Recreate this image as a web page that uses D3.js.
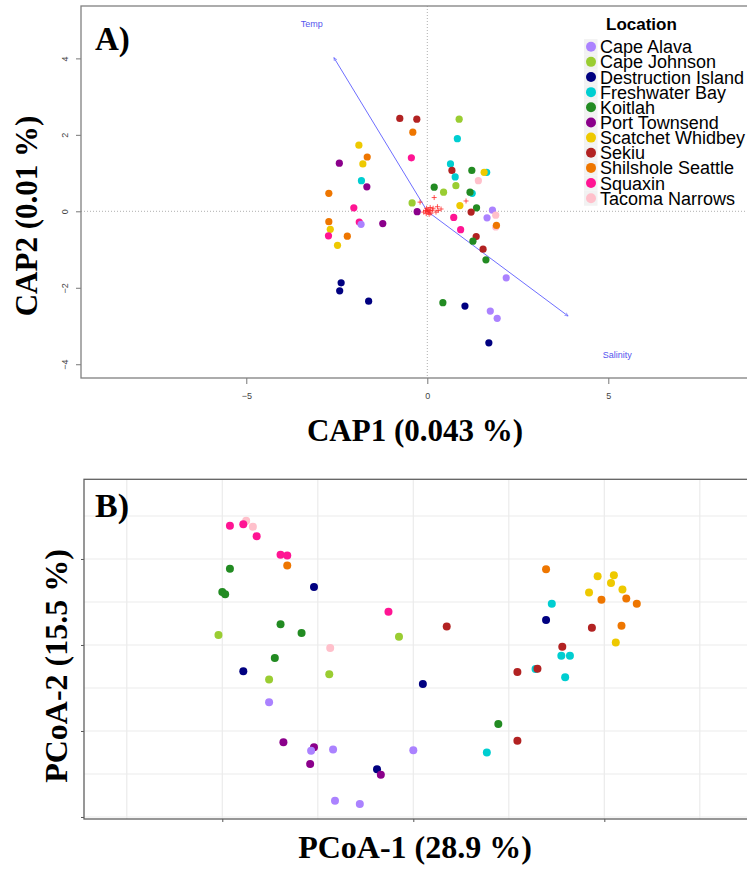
<!DOCTYPE html>
<html>
<head>
<meta charset="utf-8">
<script src="https://cdn.jsdelivr.net/npm/d3@7"></script>
<style>
  body { margin: 0; background: #fff; }
  svg { display: block; }
</style>
</head>
<body>
<div id="chart"></div>
<script>
// ---- data ----
const sites = ["Cape Alava", "Cape Johnson", "Destruction Island", "Freshwater Bay", "Koitlah",
  "Port Townsend", "Scatchet Whidbey", "Sekiu", "Shilshole Seattle", "Squaxin", "Tacoma Narrows"];
const siteColors = ["#ab82ff", "#9acd32", "#000080", "#00ced1", "#228b22",
  "#8b008b", "#eec900", "#b22222", "#ee7600", "#ff1493", "#ffc0cb"];

// panel A: site scores [location, CAP1, CAP2]
const capScores = [
  ["Sekiu", -0.76, 2.43], ["Sekiu", -0.29, 2.41], ["Shilshole Seattle", -0.40, 2.07],
  ["Scatchet Whidbey", -1.89, 1.73], ["Shilshole Seattle", -1.66, 1.42], ["Port Townsend", -2.43, 1.26],
  ["Squaxin", -0.44, 1.40], ["Scatchet Whidbey", -1.78, 1.24], ["Freshwater Bay", -1.82, 0.80],
  ["Port Townsend", -1.67, 0.64], ["Shilshole Seattle", -2.72, 0.47], ["Cape Johnson", -0.42, 0.22],
  ["Port Townsend", -0.28, -0.01], ["Squaxin", -2.03, 0.09], ["Shilshole Seattle", -2.72, -0.27],
  ["Squaxin", -1.88, -0.28], ["Cape Alava", -1.83, -0.34], ["Port Townsend", -1.23, -0.32],
  ["Scatchet Whidbey", -2.68, -0.47], ["Squaxin", -2.73, -0.64], ["Shilshole Seattle", -2.21, -0.65],
  ["Scatchet Whidbey", -2.48, -0.89], ["Destruction Island", -2.38, -1.87],
  ["Destruction Island", -2.42, -2.08], ["Destruction Island", -1.62, -2.35],
  ["Cape Johnson", 0.88, 2.41], ["Freshwater Bay", 0.83, 1.90], ["Freshwater Bay", 0.64, 1.24],
  ["Sekiu", 0.68, 1.07], ["Freshwater Bay", 0.77, 0.90], ["Cape Johnson", 0.79, 0.67],
  ["Koitlah", 1.23, 1.07], ["Freshwater Bay", 1.64, 1.02], ["Scatchet Whidbey", 1.57, 1.02],
  ["Tacoma Narrows", 1.41, 0.80], ["Koitlah", 0.19, 0.63], ["Cape Johnson", 0.45, 0.50],
  ["Freshwater Bay", 1.24, 0.47], ["Koitlah", 1.18, 0.50], ["Scatchet Whidbey", 0.90, 0.15],
  ["Koitlah", 1.36, 0.09], ["Sekiu", 1.21, -0.02], ["Cape Alava", 1.80, 0.03],
  ["Tacoma Narrows", 1.89, -0.10], ["Cape Alava", 1.65, -0.17], ["Squaxin", 0.73, -0.16],
  ["Squaxin", 0.92, -0.48], ["Tacoma Narrows", 1.89, -0.41], ["Shilshole Seattle", 1.91, -0.37],
  ["Sekiu", 1.35, -0.66], ["Koitlah", 1.26, -0.78], ["Sekiu", 1.54, -0.99],
  ["Koitlah", 1.62, -1.27], ["Cape Alava", 2.18, -1.74], ["Koitlah", 0.43, -2.39],
  ["Destruction Island", 1.04, -2.48], ["Cape Alava", 1.74, -2.61], ["Cape Alava", 1.93, -2.80],
  ["Destruction Island", 1.70, -3.44]
];
// species scores (red crosses near the origin)
const speciesScores = [
  [0.02, 0.04], [-0.05, 0.02], [0.10, -0.05], [0.19, 0.36], [0.28, 0.12], [1.07, 0.27],
  [-0.20, 0.24], [0.05, -0.08], [0.14, 0.03], [-0.03, -0.06], [0.38, 0.06], [0.24, -0.02],
  [0.08, 0.10], [-0.10, -0.02], [0.00, 0.00], [0.04, -0.02], [-0.02, 0.08], [0.07, 0.02],
  [0.16, 0.08], [0.30, 0.02]
];
// environmental vectors: name, arrow tip, label position
const envNames = ["Temp", "Salinity"];
const envTips = [[-2.58, 4.02], [3.89, -2.74]];
const envLabels = [[-3.19, 4.90], [5.25, -3.75]];
const capXTicks = [-5, 0, 5];
const capYTicks = [-4, -2, 0, 2, 4];

// panel B: PCoA scores [location, axis1, axis2]
const pcoaScores = [
  ["Tacoma Narrows", -0.175, 0.289], ["Squaxin", -0.192, 0.277], ["Squaxin", -0.178, 0.281],
  ["Tacoma Narrows", -0.168, 0.275], ["Squaxin", -0.164, 0.253], ["Squaxin", -0.139, 0.210],
  ["Squaxin", -0.132, 0.208], ["Shilshole Seattle", -0.132, 0.185], ["Koitlah", -0.192, 0.177],
  ["Destruction Island", -0.104, 0.135], ["Koitlah", -0.200, 0.123], ["Koitlah", -0.197, 0.118],
  ["Squaxin", -0.026, 0.077], ["Koitlah", -0.139, 0.048], ["Koitlah", -0.117, 0.028],
  ["Cape Johnson", -0.204, 0.023], ["Cape Johnson", -0.015, 0.019], ["Tacoma Narrows", -0.087, -0.007],
  ["Koitlah", -0.145, -0.030], ["Destruction Island", -0.178, -0.061], ["Cape Johnson", -0.151, -0.080],
  ["Cape Johnson", -0.088, -0.068], ["Destruction Island", 0.010, -0.091], ["Cape Alava", -0.151, -0.133],
  ["Port Townsend", -0.136, -0.226], ["Port Townsend", -0.104, -0.238], ["Cape Alava", -0.107, -0.246],
  ["Cape Alava", -0.084, -0.243], ["Cape Alava", 0.000, -0.245], ["Port Townsend", -0.108, -0.277],
  ["Destruction Island", -0.038, -0.289], ["Port Townsend", -0.034, -0.302],
  ["Cape Alava", -0.082, -0.362], ["Cape Alava", -0.056, -0.370],
  ["Shilshole Seattle", 0.139, 0.176], ["Scatchet Whidbey", 0.193, 0.160], ["Scatchet Whidbey", 0.210, 0.162],
  ["Scatchet Whidbey", 0.207, 0.144], ["Scatchet Whidbey", 0.219, 0.129], ["Scatchet Whidbey", 0.184, 0.122],
  ["Shilshole Seattle", 0.197, 0.105], ["Shilshole Seattle", 0.223, 0.108], ["Shilshole Seattle", 0.234, 0.096],
  ["Freshwater Bay", 0.145, 0.096], ["Destruction Island", 0.139, 0.058], ["Sekiu", 0.035, 0.043],
  ["Sekiu", 0.187, 0.040], ["Shilshole Seattle", 0.218, 0.045], ["Scatchet Whidbey", 0.212, 0.006],
  ["Sekiu", 0.156, -0.004], ["Freshwater Bay", 0.155, -0.025], ["Freshwater Bay", 0.164, -0.025],
  ["Freshwater Bay", 0.128, -0.056], ["Sekiu", 0.130, -0.055], ["Sekiu", 0.109, -0.063],
  ["Freshwater Bay", 0.159, -0.075], ["Koitlah", 0.089, -0.184], ["Sekiu", 0.109, -0.223],
  ["Freshwater Bay", 0.077, -0.250]
];
const pcoaXMajor = [-0.2, 0, 0.2];
const pcoaXMinor = [-0.3, -0.1, 0.1, 0.3];
const pcoaYMajor = [-0.4, -0.2, 0, 0.2];
const pcoaYMinor = [-0.3, -0.1, 0.1, 0.3];

// ---- setup ----
const width = 747, height = 869;
const color = d3.scaleOrdinal().domain(sites).range(siteColors);
const serif = "'Liberation Serif', 'Times New Roman', serif";
const sans = "'Liberation Sans', Arial, sans-serif";

const svg = d3.select("#chart").append("svg")
  .attr("width", width).attr("height", height);

// ===== Panel A: CAP biplot =====
const a = {left: 81, right: 747, top: 6, bottom: 378};
const xA = d3.scaleLinear().domain([-9.566, 8.831]).range([a.left, a.right]);
const yA = d3.scaleLinear().domain([-4.36, 5.37]).range([a.bottom, a.top]);
const gA = svg.append("g");

// zero reference lines
gA.append("line")
  .attr("x1", a.left).attr("x2", a.right + 20)
  .attr("y1", yA(0)).attr("y2", yA(0))
  .attr("stroke", "#b0b0b0").attr("stroke-dasharray", "1,2");
gA.append("line")
  .attr("x1", xA(0)).attr("x2", xA(0))
  .attr("y1", a.top).attr("y2", a.bottom)
  .attr("stroke", "#b0b0b0").attr("stroke-dasharray", "1,2");

// axes (R style)
const axA_x = gA.append("g").attr("transform", `translate(0,${a.bottom})`)
  .call(d3.axisBottom(xA).tickValues(capXTicks).tickSize(6).tickSizeOuter(0)
    .tickFormat(d => d < 0 ? "\u2212" + Math.abs(d) : d));
const axA_y = gA.append("g").attr("transform", `translate(${a.left},0)`)
  .call(d3.axisLeft(yA).tickValues(capYTicks).tickSize(5).tickSizeOuter(0)
    .tickFormat(d => d < 0 ? "\u2212" + Math.abs(d) : d));
[axA_x, axA_y].forEach(ax => {
  ax.select(".domain").remove();
  ax.selectAll(".tick line").attr("stroke", "#777");
  ax.selectAll(".tick text").attr("fill", "#444")
    .style("font-family", sans).style("font-size", "9px");
});
axA_x.selectAll(".tick text").attr("y", 15);
axA_y.selectAll(".tick text")
  .attr("transform", "rotate(-90)")
  .attr("x", 0).attr("y", -13).attr("dy", 0)
  .attr("text-anchor", "middle");

// box
gA.append("rect")
  .attr("x", a.left).attr("y", a.top)
  .attr("width", a.right - a.left + 30).attr("height", a.bottom - a.top)
  .attr("fill", "none").attr("stroke", "#808080").attr("stroke-width", 1.3);

// environmental arrows
svg.append("defs").append("marker")
  .attr("id", "head").attr("viewBox", "0 0 10 10")
  .attr("refX", 9).attr("refY", 5)
  .attr("markerWidth", 4).attr("markerHeight", 4)
  .attr("orient", "auto")
  .append("path").attr("d", "M0,1 L9,5 L0,9").attr("fill", "none")
  .attr("stroke", "#6e6eff").attr("stroke-width", 1.5);

gA.selectAll("line.env").data(envTips).enter().append("line")
  .attr("class", "env")
  .attr("x1", xA(0)).attr("y1", yA(0))
  .attr("x2", d => xA(d[0])).attr("y2", d => yA(d[1]))
  .attr("stroke", "#6e6eff").attr("stroke-width", 1)
  .attr("marker-end", "url(#head)");
gA.selectAll("text.env").data(envLabels).enter().append("text")
  .attr("class", "env")
  .attr("x", d => xA(d[0])).attr("y", d => yA(d[1]))
  .attr("text-anchor", "middle").attr("dy", "0.35em")
  .attr("fill", "#5555ee")
  .style("font-family", sans).style("font-size", "9px")
  .text((d, i) => envNames[i]);

// species crosses
gA.selectAll("path.sp").data(speciesScores).enter().append("path")
  .attr("class", "sp")
  .attr("d", d => {
    const cx = xA(d[0]), cy = yA(d[1]);
    return `M${cx - 2.5},${cy}H${cx + 2.5}M${cx},${cy - 2.5}V${cy + 2.5}`;
  })
  .attr("stroke", "#ff2020").attr("stroke-opacity", 0.75).attr("stroke-width", 1);

// sites
gA.selectAll("circle.site").data(capScores).enter().append("circle")
  .attr("class", "site")
  .attr("cx", d => xA(d[1])).attr("cy", d => yA(d[2]))
  .attr("r", 3.6)
  .attr("fill", d => color(d[0]));

// legend
const leg = gA.append("g");
leg.append("text")
  .attr("x", 606).attr("y", 29.5)
  .style("font-family", sans).style("font-size", "17px").style("font-weight", "bold")
  .text("Location");
const rowH = 15.15;
const items = leg.selectAll("g.item").data(sites).enter().append("g")
  .attr("class", "item")
  .attr("transform", (d, i) => `translate(0,${46.7 + i * rowH})`);
items.append("rect")
  .attr("x", 584).attr("y", -rowH / 2).attr("width", 13.5).attr("height", rowH)
  .attr("fill", "#f2f2f2");
items.append("circle")
  .attr("cx", 591).attr("cy", 0).attr("r", 5)
  .attr("fill", d => color(d));
items.append("text")
  .attr("x", 600).attr("y", 6.5)
  .style("font-family", sans).style("font-size", "18px")
  .text(d => d);

// titles
svg.append("text")
  .attr("x", 95).attr("y", 50)
  .style("font-family", serif).style("font-size", "33px").style("font-weight", "bold")
  .text("A)");
svg.append("text")
  .attr("x", 415).attr("y", 441).attr("text-anchor", "middle")
  .style("font-family", serif).style("font-size", "31px").style("font-weight", "bold")
  .text("CAP1 (0.043 %)");
svg.append("text")
  .attr("transform", "translate(37,216) rotate(-90)").attr("text-anchor", "middle")
  .style("font-family", serif).style("font-size", "31px").style("font-weight", "bold")
  .text("CAP2 (0.01 %)");

// ===== Panel B: PCoA =====
const b = {left: 84, right: 747, top: 479.3, bottom: 819};
const xB = d3.scaleLinear().domain([-0.3448, 0.3494]).range([b.left, b.right]);
const yB = d3.scaleLinear().domain([-0.4047, 0.3853]).range([b.bottom, b.top]);
const gB = svg.append("g");

// grid
gB.selectAll("line.vx").data(pcoaXMinor.concat(pcoaXMajor)).enter().append("line")
  .attr("x1", d => xB(d)).attr("x2", d => xB(d))
  .attr("y1", b.top).attr("y2", b.bottom)
  .attr("stroke", "#ebebeb").attr("stroke-width", 1.2);
gB.selectAll("line.hy").data(pcoaYMinor.concat(pcoaYMajor)).enter().append("line")
  .attr("x1", b.left).attr("x2", b.right + 20)
  .attr("y1", d => yB(d)).attr("y2", d => yB(d))
  .attr("stroke", "#ebebeb").attr("stroke-width", 1.2);

// points
gB.selectAll("circle.pt").data(pcoaScores).enter().append("circle")
  .attr("class", "pt")
  .attr("cx", d => xB(d[1])).attr("cy", d => yB(d[2]))
  .attr("r", 4)
  .attr("fill", d => color(d[0]));

// axes with ticks only
const axB_x = gB.append("g").attr("transform", `translate(0,${b.bottom})`)
  .call(d3.axisBottom(xB).tickValues(pcoaXMajor).tickSize(3).tickSizeOuter(0).tickFormat(""));
const axB_y = gB.append("g").attr("transform", `translate(${b.left},0)`)
  .call(d3.axisLeft(yB).tickValues(pcoaYMajor).tickSize(3).tickSizeOuter(0).tickFormat(""));
[axB_x, axB_y].forEach(ax => {
  ax.select(".domain").remove();
  ax.selectAll(".tick line").attr("stroke", "#555");
});

// panel border
gB.append("rect")
  .attr("x", b.left).attr("y", b.top)
  .attr("width", b.right - b.left + 30).attr("height", b.bottom - b.top)
  .attr("fill", "none").attr("stroke", "#606060").attr("stroke-width", 1.3);

svg.append("text")
  .attr("x", 95).attr("y", 517)
  .style("font-family", serif).style("font-size", "34px").style("font-weight", "bold")
  .text("B)");
svg.append("text")
  .attr("x", 415).attr("y", 858).attr("text-anchor", "middle")
  .style("font-family", serif).style("font-size", "32px").style("font-weight", "bold")
  .text("PCoA-1 (28.9 %)");
svg.append("text")
  .attr("transform", "translate(67,666) rotate(-90)").attr("text-anchor", "middle")
  .style("font-family", serif).style("font-size", "32px").style("font-weight", "bold")
  .text("PCoA-2 (15.5 %)");
</script>
</body>
</html>
